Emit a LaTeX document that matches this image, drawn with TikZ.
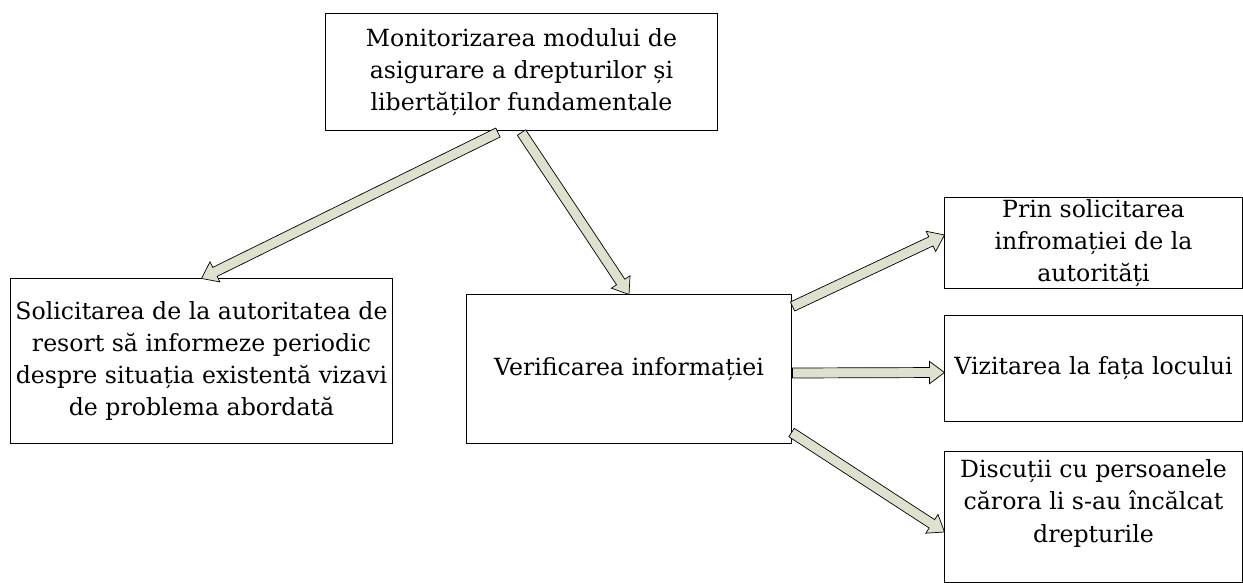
\documentclass[tikz,border=0pt]{standalone}
\usepackage{fontspec}
\setmainfont{DejaVu Serif}
\usepackage{tikz}
\usetikzlibrary{positioning,calc}
\usepackage{xcolor}

\definecolor{arrowfill}{RGB}{221,225,205}

% block arrow from #1 to #2 (shaft, then a wide head)
\newcommand{\blockarrow}[2]{%
  \coordinate (ba-h) at ($(#2)!0.375cm!(#1)$);
  \draw[blockarr] ($(#1)!0.125cm!90:(#2)$) -- ($(ba-h)!0.125cm!90:(#2)$)
    -- ($(ba-h)!0.28cm!90:(#2)$) -- (#2) -- ($(ba-h)!0.28cm!-90:(#2)$)
    -- ($(ba-h)!0.125cm!-90:(#2)$) -- ($(#1)!0.125cm!-90:(#2)$) -- cycle;}

\begin{document}
\begin{tikzpicture}[
    x=0.025cm,y=-0.025cm,
    box/.style={draw,rectangle,line width=0.7pt,align=center,inner sep=1pt,
      font=\fontsize{16.8}{22.8}\selectfont},
    blockarr/.style={draw=black,line width=0.5pt,fill=arrowfill,line join=miter}
  ]
    \useasboundingbox (0,0) rectangle (1243,583);

    % Top: monitoring
    \node[box,minimum width=9.775cm,minimum height=2.9cm] (top) at (521.5,72)
      {Monitorizarea modului de\\asigurare a drepturilor și\\libertăților fundamentale};

    % Left: request
    \node[box,minimum width=9.525cm,minimum height=4.1cm] (left) at (201.5,361)
      {Solicitarea de la autoritatea de\\resort să informeze periodic\\despre situația existentă vizavi\\de problema abordată};

    % Middle: verification
    \node[box,minimum width=8.1cm,minimum height=3.7cm] (mid) at (629,369)
      {Verificarea informației};

    % Right: ways of verification
    \node[box,minimum width=7.425cm,minimum height=2.2cm] (rtop) at (1093.5,243)
      {Prin solicitarea\\infromației de la\\autorități};
    \node[box,minimum width=7.425cm,minimum height=2.625cm] (rmid) at (1093.5,368.5)
      {Vizitarea la fața locului};
    \node[box,minimum width=7.425cm,minimum height=3.25cm] (rbot) at (1093.5,517)
      {Discuții cu persoanele\\cărora li s-au încălcat\\drepturile\\~};

    % Arrows
    \blockarrow{$(top.south west)!0.44!(top.south east)+(0,2)$}{left.north}
    \blockarrow{$(top.south)+(0,2)$}{mid.north}
    \blockarrow{$(mid.north east)+(1,12)$}{$(rtop.west)+(0,-8)$}
    \blockarrow{$(mid.east)+(1,4)$}{$(rmid.west)+(0,4)$}
    \blockarrow{$(mid.south east)+(0,-11)$}{$(rbot.west)+(0,15)$}
\end{tikzpicture}
\end{document}
